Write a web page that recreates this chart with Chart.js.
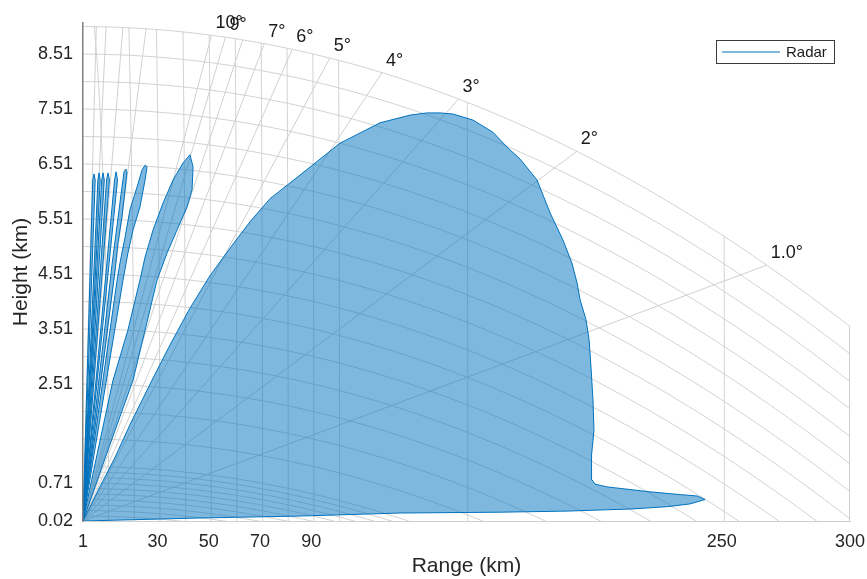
<!DOCTYPE html>
<html>
<head>
<meta charset="utf-8">
<script src="https://cdn.jsdelivr.net/npm/chart.js@4.4.1/dist/chart.umd.min.js"></script>
<style>
  html, body { margin: 0; padding: 0; background: #fff; }
  #wrap { width: 867px; height: 579px; }
</style>
</head>
<body>
<div id="wrap"><canvas id="blake" width="867" height="579"></canvas></div>
<script>
const rangeTicks = [1, 30, 50, 70, 90, 250, 300];
const heightTicks = [0.02, 0.71, 2.51, 3.51, 4.51, 5.51, 6.51, 7.51, 8.51];

// Blake chart grid: constant height curves, range rings, elevation rays
const heightLines = [0.11, 0.21, 0.31, 0.41, 0.51, 0.61, 0.71, 0.81, 0.91, 1.01,
  1.51, 2.01, 2.51, 3.01, 3.51, 4.01, 4.51, 5.01, 5.51, 6.01, 6.51, 7.01, 7.51,
  8.01, 8.51, 9.01];
const rangeRings = [10, 20, 30, 40, 50, 60, 70, 80, 90, 100, 150, 250];
const rayAngles = [1, 2, 3, 4, 5, 6, 7, 8, 9, 10, 20, 30, 45, 60];
const labelAngles = [1, 2, 3, 4, 5, 6, 7, 9, 10];
const labelTexts = ["1.0°", "2°", "3°", "4°", "5°", "6°", "7°", "9°", "10°"];
const earthRadiusKm = 8250; // effective earth radius for the height curves

// coverage outlines, [range km, height km]
const lobe1 = [[1.0, 0.02], [46.6, 0.075], [85.6, 0.11], [124.6, 0.165], [163.6, 0.18],
  [189.7, 0.20], [215.4, 0.24], [228.7, 0.28], [237.6, 0.33], [243.5, 0.41],
  [240.4, 0.475], [233.8, 0.50], [222.1, 0.55], [205.3, 0.64], [200.6, 0.69],
  [199.4, 0.77], [199.1, 0.95], [199.4, 1.22], [200.2, 1.67], [199.8, 2.22],
  [199.1, 2.77], [198.3, 3.31], [197.1, 3.68], [194.8, 4.04], [193.6, 4.35],
  [191.6, 4.71], [188.1, 5.13], [183.1, 5.62], [178.0, 6.22], [171.4, 6.60],
  [166.3, 6.82], [160.8, 7.09], [153.0, 7.31], [145.2, 7.42], [140.2, 7.44],
  [135.1, 7.44], [128.5, 7.40], [116.8, 7.26], [101.2, 6.89], [85.6, 6.31],
  [73.9, 5.88], [66.1, 5.46], [58.3, 4.98], [50.5, 4.48], [42.7, 3.89],
  [34.9, 3.22], [27.9, 2.58], [19.3, 1.77], [13.5, 1.18], [7.6, 0.64], [1.0, 0.02]];
const lobe2 = [[1.0, 0.02], [10.75, 1.31], [20.5, 2.58], [25.2, 3.49], [29.85, 4.40],
  [33.75, 4.89], [37.65, 5.31], [41.55, 5.73], [43.5, 6.04], [43.9, 6.46],
  [42.7, 6.68], [40.0, 6.53], [36.1, 6.22], [32.2, 5.80], [28.3, 5.31],
  [25.2, 4.82], [23.2, 4.40], [18.5, 3.49], [12.7, 2.58], [6.85, 1.31], [1.0, 0.02]];
const lobe3 = [[1.0, 0.02], [16.6, 4.40], [18.5, 4.89], [20.5, 5.31], [23.2, 5.73],
  [25.2, 6.22], [25.95, 6.46], [25.2, 6.49], [24.0, 6.40], [22.05, 6.09],
  [19.3, 5.68], [17.4, 5.18], [15.4, 4.71], [14.3, 4.40], [1.0, 0.02]];
const lobe4 = [[1.0, 0.02], [13.5, 4.58], [14.65, 5.08], [16.2, 5.55], [17.4, 6.04],
  [18.15, 6.37], [17.8, 6.42], [17.0, 6.37], [15.8, 5.95], [14.3, 5.40],
  [12.3, 4.68], [1.0, 0.02]];
const lobe5 = [[1.0, 0.02], [14.45, 6.22], [13.9, 6.37], [13.3, 6.22], [1.0, 0.02]];
const lobe6 = [[1.0, 0.02], [11.3, 6.22], [10.75, 6.35], [10.2, 6.22], [1.0, 0.02]];
const lobe7 = [[1.0, 0.02], [9.3, 6.22], [8.8, 6.35], [8.3, 6.22], [1.0, 0.02]];
const lobe8 = [[1.0, 0.02], [7.7, 6.22], [7.25, 6.35], [6.8, 6.22], [1.0, 0.02]];
const lobe9 = [[1.0, 0.02], [5.75, 6.22], [5.3, 6.33], [4.8, 6.22], [1.0, 0.02]];

const lobes = [lobe1, lobe2, lobe3, lobe4, lobe5, lobe6, lobe7, lobe8, lobe9];

const originX = rangeTicks[0];
const originY = heightTicks[0];
const maxRange = rangeTicks[rangeTicks.length - 1];
const topHeight = heightLines[heightLines.length - 1];

function bend(r) {
  return (r * r) / (2 * earthRadiusKm);
}

function topAt(r) {
  return topHeight - bend(r);
}

// where a ray meets the top curve
function rayEnd(deg) {
  const t = Math.tan((deg * Math.PI) / 180);
  let lo = 0;
  let hi = 400;
  for (let i = 0; i < 60; i++) {
    const mid = (lo + hi) / 2;
    if (originY + mid * t > topAt(originX + mid)) hi = mid;
    else lo = mid;
  }
  return { x: originX + lo, y: originY + lo * t };
}

// angle where a range ring meets the top curve
function ringEnd(R) {
  let lo = 0;
  let hi = Math.PI / 2;
  for (let i = 0; i < 60; i++) {
    const mid = (lo + hi) / 2;
    if (originY + R * Math.sin(mid) > topAt(originX + R * Math.cos(mid))) hi = mid;
    else lo = mid;
  }
  return lo;
}

const blakeGrid = {
  id: "blakeGrid",
  beforeDatasetsDraw(chart) {
    const { ctx, chartArea, scales } = chart;
    const sx = scales.x;
    const sy = scales.y;
    ctx.save();
    ctx.beginPath();
    ctx.rect(chartArea.left, chartArea.top, chartArea.right - chartArea.left, chartArea.bottom - chartArea.top);
    ctx.clip();
    ctx.strokeStyle = "#d0d0d0";
    ctx.lineWidth = 1;

    heightLines.forEach((h) => {
      ctx.beginPath();
      for (let r = originX; r <= maxRange; r += 1) {
        const px = sx.getPixelForValue(r);
        const py = sy.getPixelForValue(h - bend(r));
        if (r === originX) ctx.moveTo(px, py);
        else ctx.lineTo(px, py);
      }
      ctx.stroke();
    });

    rangeRings.forEach((R) => {
      const end = ringEnd(R);
      ctx.beginPath();
      for (let i = 0; i <= 200; i++) {
        const a = (end * i) / 200;
        const px = sx.getPixelForValue(originX + R * Math.cos(a));
        const py = sy.getPixelForValue(originY + R * Math.sin(a));
        if (i === 0) ctx.moveTo(px, py);
        else ctx.lineTo(px, py);
      }
      ctx.stroke();
    });

    rayAngles.forEach((deg) => {
      const e = rayEnd(deg);
      ctx.beginPath();
      ctx.moveTo(sx.getPixelForValue(originX), sy.getPixelForValue(originY));
      ctx.lineTo(sx.getPixelForValue(e.x), sy.getPixelForValue(e.y));
      ctx.stroke();
    });

    // outer range edge
    ctx.beginPath();
    ctx.moveTo(sx.getPixelForValue(maxRange) - 0.5, sy.getPixelForValue(originY));
    ctx.lineTo(sx.getPixelForValue(maxRange) - 0.5, sy.getPixelForValue(topAt(maxRange)));
    ctx.stroke();
    ctx.restore();
  },
  afterDatasetsDraw(chart) {
    const { ctx, scales } = chart;
    ctx.save();
    ctx.font = "18px 'Liberation Sans', Arial, sans-serif";
    ctx.fillStyle = "#1a1a1a";
    ctx.textAlign = "left";
    ctx.textBaseline = "middle";
    labelAngles.forEach((deg, i) => {
      const e = rayEnd(deg);
      ctx.fillText(labelTexts[i], scales.x.getPixelForValue(e.x) + 4, scales.y.getPixelForValue(e.y) - 12);
    });
    ctx.restore();
  },
  afterDraw(chart) {
    const { ctx, chartArea } = chart;
    const left = chartArea.right - 134;
    const top = chartArea.top + 17;
    ctx.save();
    ctx.fillStyle = "#fff";
    ctx.fillRect(left, top, 118, 23);
    ctx.strokeStyle = "#3c3c3c";
    ctx.lineWidth = 1;
    ctx.strokeRect(left + 0.5, top + 0.5, 118, 23);
    ctx.strokeStyle = "#0072bd";
    ctx.beginPath();
    ctx.moveTo(left + 6, top + 12);
    ctx.lineTo(left + 64, top + 12);
    ctx.stroke();
    ctx.font = "15px 'Liberation Sans', Arial, sans-serif";
    ctx.fillStyle = "#1a1a1a";
    ctx.textBaseline = "middle";
    ctx.fillText("Radar", left + 70, top + 12.5);
    ctx.restore();
  },
};

const tickFont = { family: "'Liberation Sans', Arial, sans-serif", size: 18 };
const titleFont = { family: "'Liberation Sans', Arial, sans-serif", size: 21 };

new Chart(document.getElementById("blake"), {
  type: "scatter",
  data: {
    datasets: lobes.map((lobe) => ({
      label: "Radar",
      data: lobe.map(([r, h]) => ({ x: r, y: h })),
      showLine: true,
      fill: "shape",
      backgroundColor: "rgba(0, 114, 189, 0.5)",
      borderColor: "#0072bd",
      borderWidth: 1,
      pointRadius: 0,
      tension: 0,
    })),
  },
  options: {
    responsive: false,
    animation: false,
    devicePixelRatio: 1,
    events: [],
    layout: { padding: { top: 23, right: 17, left: 0, bottom: 0 } },
    plugins: {
      legend: { display: false },
      tooltip: { enabled: false },
    },
    scales: {
      x: {
        type: "linear",
        min: 1,
        max: 300,
        afterBuildTicks: (scale) => {
          scale.ticks = rangeTicks.map((v) => ({ value: v }));
        },
        afterFit: (scale) => {
          scale.height = 58;
          scale.paddingLeft = 0;
          scale.paddingRight = 0;
        },
        ticks: {
          autoSkip: false,
          maxRotation: 0,
          padding: 10,
          font: tickFont,
          color: "#262626",
          callback: (v) => String(v),
        },
        grid: { display: false, drawTicks: false },
        border: { display: true, color: "#d0d0d0", width: 1, z: 1 },
        title: {
          display: true,
          text: "Range (km)",
          font: titleFont,
          color: "#262626",
          padding: { top: 0, bottom: 0 },
        },
      },
      y: {
        type: "linear",
        min: 0.02,
        max: 9.075,
        afterBuildTicks: (scale) => {
          scale.ticks = heightTicks.map((v) => ({ value: v }));
        },
        afterFit: (scale) => {
          scale.width = 83;
          scale.paddingTop = 0;
          scale.paddingBottom = 0;
        },
        ticks: {
          autoSkip: false,
          padding: 10,
          font: tickFont,
          color: "#262626",
          callback: (v) => v.toFixed(2),
        },
        grid: { display: false, drawTicks: false },
        border: { display: true, color: "#808080", width: 1.5, z: 1 },
        title: {
          display: true,
          text: "Height (km)",
          font: titleFont,
          color: "#262626",
          padding: { top: 9, bottom: 0 },
        },
      },
    },
  },
  plugins: [blakeGrid],
});
</script>
</body>
</html>
